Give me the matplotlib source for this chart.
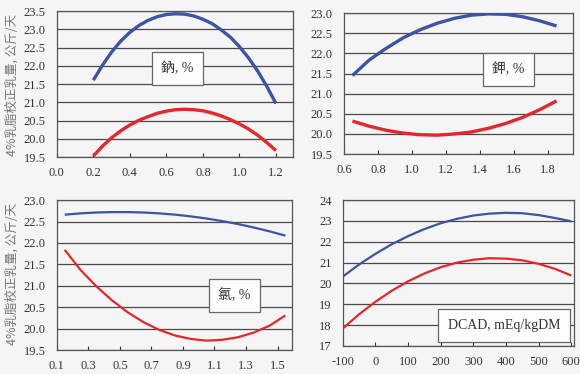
import matplotlib
matplotlib.use("Agg")
import matplotlib.pyplot as plt
from matplotlib.ticker import FormatStrFormatter

# --- data ---
# sodium (top left)
na_x = [0.2, 0.25, 0.3, 0.35, 0.4, 0.45, 0.5, 0.55, 0.6, 0.65, 0.7,
        0.75, 0.8, 0.85, 0.9, 0.95, 1.0, 1.05, 1.1, 1.15, 1.2]
na_blue = [21.61, 22.02, 22.38, 22.68, 22.92, 23.11, 23.25, 23.35, 23.41, 23.43, 23.42,
           23.37, 23.28, 23.16, 22.99, 22.79, 22.53, 22.22, 21.86, 21.44, 20.97]
na_red = [19.53, 19.80, 20.03, 20.22, 20.38, 20.51, 20.61, 20.70, 20.76, 20.80, 20.81,
          20.80, 20.77, 20.71, 20.63, 20.53, 20.41, 20.27, 20.10, 19.90, 19.68]

# potassium (top right)
k_x = [0.65, 0.75, 0.85, 0.95, 1.05, 1.15, 1.25, 1.35, 1.45, 1.55, 1.65, 1.75, 1.85]
k_blue = [21.45, 21.84, 22.13, 22.39, 22.59, 22.75, 22.87, 22.95, 22.98, 22.97, 22.91, 22.81, 22.68]
k_red = [20.32, 20.19, 20.09, 20.02, 19.98, 19.97, 20.00, 20.05, 20.14, 20.26, 20.41, 20.60, 20.82]

# chlorine (bottom left)
cl_x = [0.15, 0.25, 0.35, 0.45, 0.55, 0.65, 0.75, 0.85, 0.95, 1.05, 1.15, 1.25, 1.35, 1.45, 1.55]
cl_blue = [22.66, 22.69, 22.71, 22.72, 22.72, 22.71, 22.69, 22.66, 22.62, 22.57, 22.51, 22.44, 22.36, 22.27, 22.17]
cl_red = [21.84, 21.37, 20.99, 20.66, 20.38, 20.15, 19.97, 19.84, 19.76, 19.72, 19.74, 19.80, 19.91, 20.07, 20.31]

# DCAD (bottom right)
dcad_x = [-100, -50, 0, 50, 100, 150, 200, 250, 300, 350, 400, 450, 500, 550, 600]
dcad_blue = [20.33, 20.91, 21.42, 21.88, 22.27, 22.61, 22.89, 23.10, 23.26, 23.35, 23.39, 23.37, 23.28, 23.14, 22.98]
dcad_red = [17.84, 18.52, 19.12, 19.65, 20.10, 20.48, 20.78, 21.00, 21.14, 21.21, 21.19, 21.11, 20.94, 20.70, 20.38]

ylabel = "4%乳脂校正乳量, 公斤/天"
labels = ["鈉, %", "鉀, %", "氯, %", "DCAD, mEq/kgDM"]

bg = "#f5f5f5"
blue = "#3b54a3"
red = "#e5262b"
serif = ["Liberation Serif", "Noto Sans CJK TC"]

fig = plt.figure(figsize=(5.8, 3.74), dpi=100, facecolor=bg)

# one entry per panel: position, data, limits, ticks, label box position, line width
panels = [
    dict(rect=[0.098, 0.580, 0.407, 0.390], x=na_x, b=na_blue, r=na_red,
         xlim=(0, 1.293), ylim=(19.5, 23.5), xt=[0.0, 0.2, 0.4, 0.6, 0.8, 1.0, 1.2],
         yt=[19.5, 20.0, 20.5, 21.0, 21.5, 22.0, 22.5, 23.0, 23.5], fmt="%.1f",
         box=(0.511, 0.606), lw=2.4),
    dict(rect=[0.593, 0.588, 0.395, 0.377], x=k_x, b=k_blue, r=k_red,
         xlim=(0.6, 1.947), ylim=(19.5, 23.0), xt=[0.6, 0.8, 1.0, 1.2, 1.4, 1.6, 1.8],
         yt=[19.5, 20.0, 20.5, 21.0, 21.5, 22.0, 22.5, 23.0], fmt="%.1f",
         box=(0.718, 0.603), lw=2.4),
    dict(rect=[0.098, 0.064, 0.405, 0.401], x=cl_x, b=cl_blue, r=cl_red,
         xlim=(0.1, 1.59), ylim=(19.5, 23.0), xt=[0.1, 0.3, 0.5, 0.7, 0.9, 1.1, 1.3, 1.5],
         yt=[19.5, 20.0, 20.5, 21.0, 21.5, 22.0, 22.5, 23.0], fmt="%.1f",
         box=(0.756, 0.363), lw=1.6),
    dict(rect=[0.591, 0.075, 0.398, 0.390], x=dcad_x, b=dcad_blue, r=dcad_red,
         xlim=(-100, 607), ylim=(17, 24), xt=[-100, 0, 100, 200, 300, 400, 500, 600],
         yt=[17, 18, 19, 20, 21, 22, 23, 24], fmt="%d",
         box=(0.698, 0.140), lw=1.6),
]

for p, lbl in zip(panels, labels):
    ax = fig.add_axes(p["rect"], facecolor=bg)
    ax.plot(p["x"], p["b"], color=blue, lw=p["lw"], solid_capstyle="butt",
            solid_joinstyle="round", zorder=4)
    ax.plot(p["x"], p["r"], color=red, lw=p["lw"], solid_capstyle="butt",
            solid_joinstyle="round", zorder=4)
    ax.set_xlim(p["xlim"])
    ax.set_ylim(p["ylim"])
    ax.set_xticks(p["xt"])
    ax.set_yticks(p["yt"])
    ax.xaxis.set_major_formatter(FormatStrFormatter(p["fmt"]))
    ax.yaxis.set_major_formatter(FormatStrFormatter(p["fmt"]))
    ax.yaxis.grid(True, color="#4a4a4a", lw=0.9, zorder=1)
    ax.tick_params(axis="x", direction="in", length=3, width=0.8, color="#333333", pad=7)
    ax.tick_params(axis="y", length=0, pad=8)
    for t in ax.get_xticklabels() + ax.get_yticklabels():
        t.set_fontfamily(serif)
        t.set_fontsize(9)
        t.set_color("#333333")
    for s in ax.spines.values():
        s.set_color("#555555")
        s.set_linewidth(0.9)
    ax.text(p["box"][0], p["box"][1], lbl, transform=ax.transAxes, ha="center", va="center",
            family=serif, fontsize=10, color="#333333", zorder=3,
            bbox=dict(boxstyle="square,pad=0.7", fc="#fdfdfd", ec="#666666", lw=0.9))

# y labels on the left panels
fig.text(0.021, 0.772, ylabel, rotation=90, ha="center", va="center",
         family=["Noto Sans CJK SC", "DejaVu Sans"], fontsize=9, color="#777777")
fig.text(0.021, 0.268, ylabel, rotation=90, ha="center", va="center",
         family=["Noto Sans CJK SC", "DejaVu Sans"], fontsize=9, color="#777777")

fig.savefig("out.png", dpi=100, facecolor=bg)
